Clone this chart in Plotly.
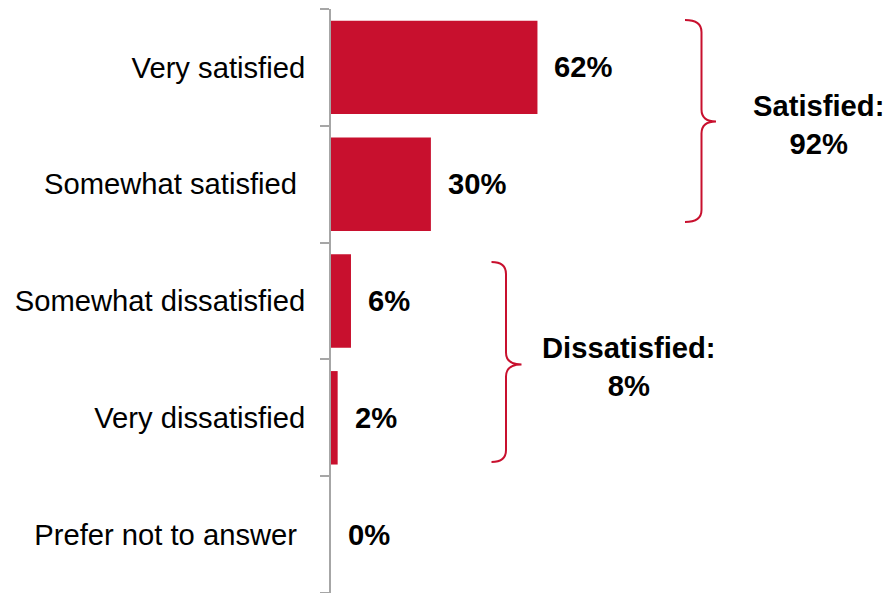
import plotly.graph_objects as go

categories = ["Very satisfied", "Somewhat satisfied", "Somewhat dissatisfied",
              "Very dissatisfied", "Prefer not to answer"]
tick_labels = ["Very satisfied", "Somewhat satisfied\u00a0", "Somewhat dissatisfied",
               "Very dissatisfied", "Prefer not to answer\u00a0"]
values = [62, 30, 6, 2, 0]
value_labels = ["62%", "30%", "6%", "2%", "0%"]

group_labels = ["Satisfied:<br>92%", "Dissatisfied:<br>8%"]

RED = "#C8102E"
GREY = "#A6A6A6"
FONT = "Arial, Liberation Sans, sans-serif"
FS = 29.2

W, H = 889, 593
ML, MR, MT, MB = 331, 0, 9, 0
PW, PH = W - ML - MR, H - MT - MB

def px(x):
    return (x - ML) / PW

def py(y):
    return 1 - (y - MT) / PH

fig = go.Figure()
fig.add_trace(go.Bar(
    x=values, y=categories, orientation="h",
    marker=dict(color=RED, line=dict(width=0)),
    hoverinfo="skip",
))

for c, v, t in zip(categories, values, value_labels):
    fig.add_annotation(x=v, y=c, xref="x", yref="y", text=f"<b>{t}</b>",
                       showarrow=False, xanchor="left", yanchor="middle", xshift=15,
                       font=dict(family=FONT, size=FS, color="black"))

def brace(x0, x1, x2, yt, ym, yb, r):
    pts = [
        f"M {px(x0)},{py(yt)}",
        f"Q {px(x1)},{py(yt)} {px(x1)},{py(yt + r)}",
        f"L {px(x1)},{py(ym - r)}",
        f"Q {px(x1)},{py(ym)} {px(x2)},{py(ym)}",
        f"Q {px(x1)},{py(ym)} {px(x1)},{py(ym + r)}",
        f"L {px(x1)},{py(yb - r)}",
        f"Q {px(x1)},{py(yb)} {px(x0)},{py(yb)}",
    ]
    return " ".join(pts)

fig.add_shape(type="path", xref="paper", yref="paper",
              path=brace(685, 701.5, 716, 20, 121.5, 222, 12),
              line=dict(color=RED, width=2))
fig.add_shape(type="path", xref="paper", yref="paper",
              path=brace(491.5, 506, 521.5, 262, 364.5, 462, 12),
              line=dict(color=RED, width=2))

fig.add_annotation(x=px(818), y=py(124.5), xref="paper", yref="paper",
                   text=f"<b>{group_labels[0]}</b>", showarrow=False,
                   xanchor="center", yanchor="middle", align="center",
                   font=dict(family=FONT, size=FS, color="black"))
fig.add_annotation(x=px(629), y=py(366.5), xref="paper", yref="paper",
                   text=f"<b>{group_labels[1]}</b>", showarrow=False,
                   xanchor="center", yanchor="middle", align="center",
                   font=dict(family=FONT, size=FS, color="black"))

fig.update_layout(
    width=W, height=H,
    margin=dict(l=ML, r=MR, t=MT, b=MB, autoexpand=False),
    paper_bgcolor="white", plot_bgcolor="white",
    bargap=0.2,
    showlegend=False,
    font=dict(family=FONT, size=FS, color="black"),
)
fig.update_xaxes(range=[0, PW / 3.33], visible=False, fixedrange=True)
fig.update_yaxes(
    type="category", categoryorder="array", categoryarray=categories,
    autorange="reversed", automargin=False, fixedrange=True,
    tickmode="array", tickvals=categories, ticktext=tick_labels,
    tickson="boundaries", ticks="outside", ticklen=9, tickcolor=GREY, tickwidth=2,
    showline=True, linecolor=GREY, linewidth=2,
    showgrid=False, zeroline=False,
    tickfont=dict(family=FONT, size=FS, color="black"),
    ticklabelstandoff=18,
)

fig.write_html("out.html", config={"displayModeBar": False},
               post_script="document.body.style.margin='0';document.body.style.overflow='hidden';")
